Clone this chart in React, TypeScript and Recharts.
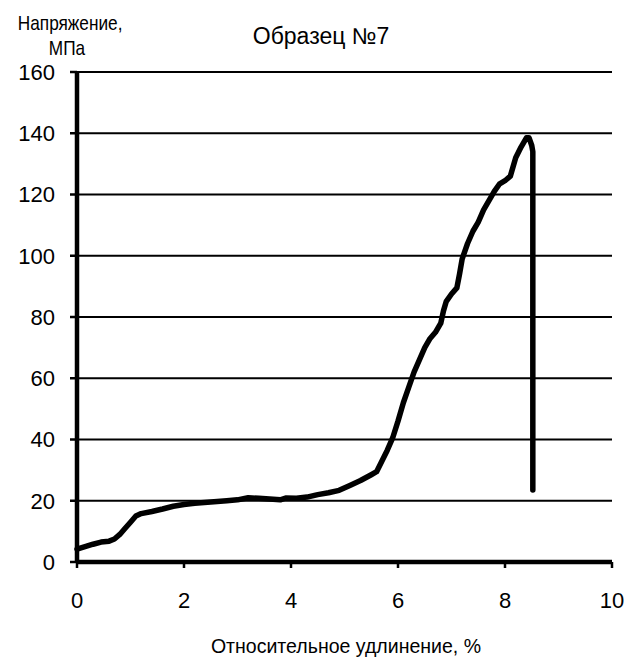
import React from "react";
import { LineChart, Line, XAxis, YAxis, CartesianGrid } from "recharts";

const strain = [0, 0.15, 0.3, 0.45, 0.6, 0.7, 0.8, 0.9, 1.0, 1.1, 1.2, 1.4, 1.6, 1.8, 2.0, 2.2, 2.5, 2.8, 3.0, 3.2, 3.4, 3.6, 3.8, 3.9, 4.1, 4.3, 4.5, 4.7, 4.9, 5.1, 5.3, 5.5, 5.6, 5.7, 5.8, 5.9, 6.0, 6.1, 6.2, 6.3, 6.4, 6.5, 6.6, 6.7, 6.8, 6.85, 6.9, 7.0, 7.1, 7.15, 7.2, 7.3, 7.4, 7.5, 7.6, 7.7, 7.8, 7.9, 8.0, 8.1, 8.2, 8.3, 8.4, 8.45, 8.5, 8.52, 8.52];
const stress = [4.2, 5, 5.8, 6.5, 6.8, 7.5, 9, 11, 13, 15, 15.8, 16.5, 17.3, 18.2, 18.8, 19.2, 19.6, 20, 20.3, 21, 20.8, 20.6, 20.3, 20.9, 20.8, 21.2, 22, 22.6, 23.4, 25, 26.6, 28.5, 29.5, 33, 36.5, 40.5, 46, 52, 57, 62, 66, 70, 73, 75, 78, 82, 85, 87.5, 89.5, 94, 99, 104, 108, 111, 115, 118, 121, 123.5, 124.5, 126, 132, 135.5, 138.5, 138.5, 136, 134, 23.5];

const xTicks = [0, 2, 4, 6, 8, 10];
const yTicks = [0, 20, 40, 60, 80, 100, 120, 140, 160];

const title = "Образец №7";
const yLabel1 = "Напряжение,";
const yLabel2 = "МПа";
const xLabel = "Относительное удлинение, %";

const data = strain.map((x, i) => ({ x, y: stress[i] }));

const FONT = "'Liberation Sans', Arial, sans-serif";

export default function App() {
  return (
    <div style={{ position: "relative", width: 633, height: 659, fontFamily: FONT, background: "#fff", overflow: "hidden" }}>
      <style>{`html,body{margin:0;padding:0;overflow:hidden;background:#fff}`}</style>
      <LineChart
        width={633}
        height={659}
        data={data}
        margin={{ top: 72, right: 21, bottom: 37, left: 0 }}
      >
        <CartesianGrid horizontal={true} vertical={false} stroke="#000" strokeWidth={1.8} strokeOpacity={1} />
        <XAxis
          dataKey="x"
          type="number"
          domain={[0, 10]}
          ticks={xTicks}
          interval={0}
          height={60}
          axisLine={{ stroke: "#000", strokeWidth: 4.5 }}
          tickLine={{ stroke: "#000", strokeWidth: 2.5 }}
          tickSize={6}
          tickMargin={24}
          tick={{ fill: "#000", fontSize: 22, fontFamily: FONT }}
        />
        <YAxis
          type="number"
          domain={[0, 160]}
          ticks={yTicks}
          interval={0}
          width={77}
          axisLine={{ stroke: "#000", strokeWidth: 4.5 }}
          tickLine={{ stroke: "#000", strokeWidth: 2.5 }}
          tickSize={7}
          tickMargin={15}
          tick={{ fill: "#000", fontSize: 22, fontFamily: FONT }}
        />
        <Line
          dataKey="y"
          type="linear"
          stroke="#000"
          strokeWidth={5.5}
          dot={false}
          isAnimationActive={false}
          strokeLinejoin="round"
          strokeLinecap="round"
        />
      </LineChart>
      <div style={{ position: "absolute", left: 171, width: 300, top: 25, textAlign: "center", fontSize: 23, color: "#000", lineHeight: "23px", whiteSpace: "nowrap" }}>{title}</div>
      <div style={{ position: "absolute", left: 7, width: 120, top: 10, textAlign: "center", fontSize: 21, color: "#000", lineHeight: "25px", transform: "scaleX(0.82)", transformOrigin: "center", whiteSpace: "nowrap" }}>
        <div>{yLabel1}</div>
        <div>{yLabel2}</div>
      </div>
      <div style={{ position: "absolute", left: 146, width: 400, top: 635, textAlign: "center", fontSize: 21, color: "#000", lineHeight: "21px", transform: "scaleX(0.93)", transformOrigin: "center", whiteSpace: "nowrap" }}>{xLabel}</div>
    </div>
  );
}
